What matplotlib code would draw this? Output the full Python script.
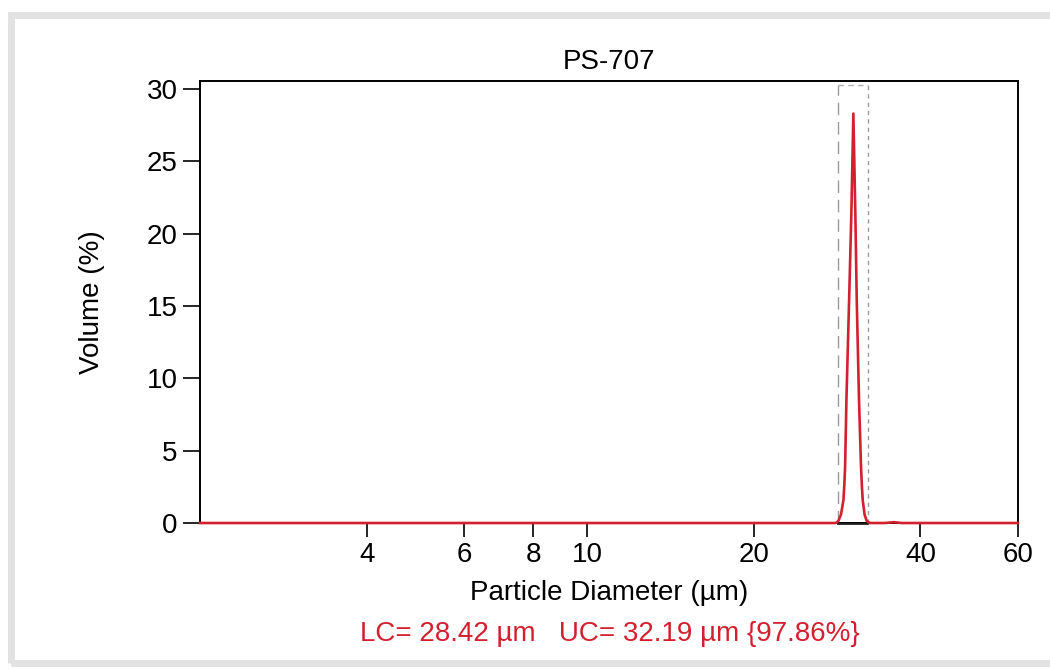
import matplotlib
matplotlib.use("Agg")
import matplotlib.pyplot as plt
from matplotlib.patches import Rectangle
from matplotlib.ticker import FixedLocator, NullLocator, FixedFormatter

# particle size distribution
diam = [2.0, 20.0, 28.0, 28.2, 28.44, 28.75, 29.04, 29.14, 29.24, 29.40, 29.73, 30.01, 30.26,
        30.51, 30.69, 30.98, 31.24, 31.35, 31.46, 31.7, 31.98, 32.4, 34.5, 35.8, 37.0, 40.0, 60.0]
volume = [0.0, 0.0, 0.0, 0.02, 0.15, 0.6, 1.6, 2.6, 3.9, 8.5, 15.4, 21.4, 28.3,
          21.4, 15.4, 8.5, 3.9, 2.6, 1.6, 0.6, 0.15, 0.0, 0.0, 0.06, 0.0, 0.0, 0.0]

lc = 28.42
uc = 32.19
pct_in = 97.86
title = "PS-707"
xticks = [4, 6, 8, 10, 20, 40, 60]
yticks = [0, 5, 10, 15, 20, 25, 30]

red = "#d3202f"
fs = 20
plt.rcParams["font.family"] = ["Liberation Sans", "DejaVu Sans"]

fig = plt.figure(figsize=(10.5, 6.69), dpi=100)
fig.patches.append(Rectangle((0.0105, 0.009), 1.02, 0.9686, transform=fig.transFigure,
                             fill=False, edgecolor="#e2e2e2", linewidth=5))
ax = fig.add_axes([0.1905, 0.2182, 0.779, 0.6607])

# cut-off window
ax.axvline(lc, color="#9a9a9a", linewidth=1.0, linestyle=(0, (9, 5)), ymax=0.99)
ax.axvline(uc, color="#9a9a9a", linewidth=1.0, linestyle=(0, (3, 3)), ymax=0.99)
ax.plot([lc, uc], [30.25, 30.25], color="#b0b0b0", linewidth=1.0, linestyle=(0, (4, 3)))

ax.plot(diam, volume, color=red, linewidth=1.9, zorder=3, clip_on=False)
ax.plot([lc, uc], [-0.08, -0.08], color="#222222", linewidth=1.3, zorder=2.8, clip_on=False)

ax.set_xscale("log")
ax.set_xlim(2.0, 60)
ax.set_ylim(0, 30.55)
ax.xaxis.set_major_locator(FixedLocator(xticks))
ax.xaxis.set_major_formatter(FixedFormatter([str(t) for t in xticks]))
ax.xaxis.set_minor_locator(NullLocator())
ax.set_yticks(yticks)

ax.tick_params(axis="x", length=10, width=1.2, pad=4, labelsize=fs)
ax.tick_params(axis="y", length=12, width=1.2, pad=4, labelsize=fs)
for s in ax.spines.values():
    s.set_linewidth(1.4)

ax.set_title(title, fontsize=fs, pad=9)
ax.set_xlabel("Particle Diameter (\u00b5m)", fontsize=fs, labelpad=8)
ax.set_ylabel("Volume (%)", fontsize=fs, labelpad=30)

fig.text(0.581, 0.052, f"LC= {lc:.2f} \u00b5m   UC= {uc:.2f} \u00b5m {{{pct_in:.2f}%}}",
         ha="center", va="center", fontsize=fs, color=red)

fig.savefig("out.png", dpi=100)
